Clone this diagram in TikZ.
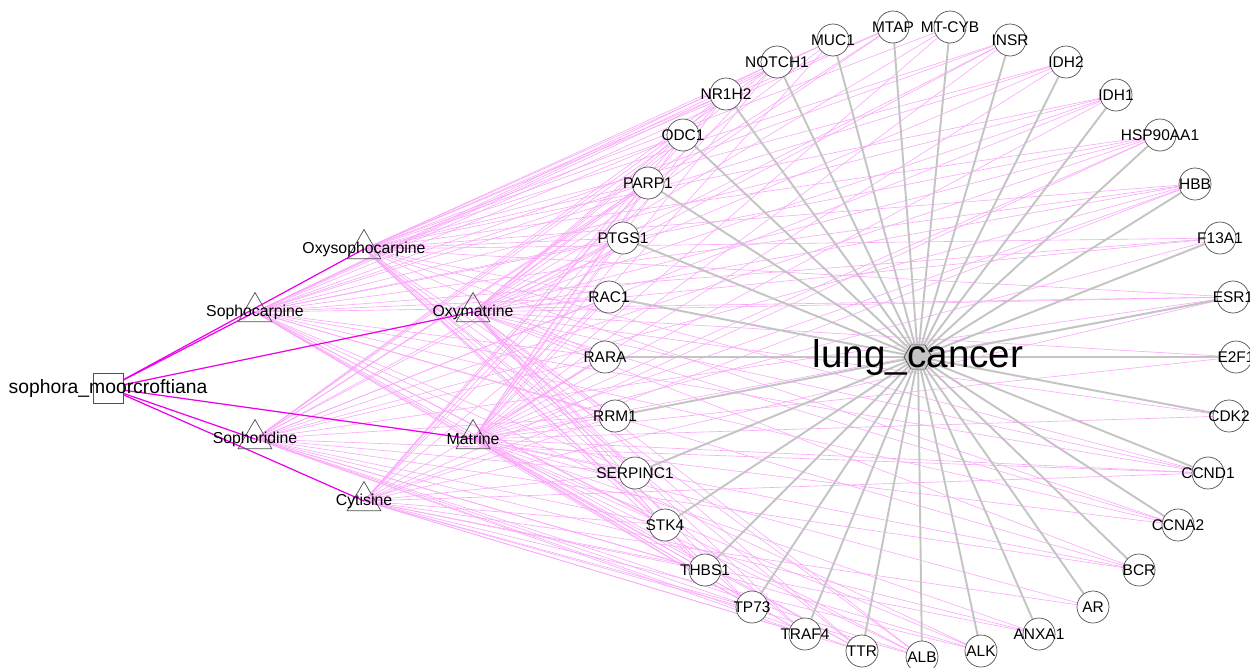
\documentclass[tikz,border=0pt]{standalone}
\usepackage{fontspec}
\setmainfont{Liberation Sans}
\usetikzlibrary{shapes.geometric, backgrounds}
\definecolor{mymagenta}{RGB}{235,0,235}
\definecolor{mypink}{RGB}{250,168,250}
\definecolor{mygray}{RGB}{196,196,196}
\definecolor{myborder}{RGB}{80,80,80}

\tikzset{
  herb/.style={draw=myborder, rectangle, minimum size=0.6cm, inner sep=0pt,
    label={[font=\fontsize{11}{13}\selectfont]center:#1}},
  compound/.style={draw=myborder, regular polygon, regular polygon sides=3,
    minimum size=0.78cm, inner sep=0pt,
    label={[font=\fontsize{9}{11}\selectfont]center:#1}},
  target/.style={draw=myborder, circle, fill=white, minimum size=0.64cm, inner sep=0pt,
    label={[font=\fontsize{8.8}{10}\selectfont]center:#1}},
  disease/.style={draw=myborder, regular polygon, regular polygon sides=6,
    minimum size=0.56cm, inner sep=0pt,
    label={[font=\fontsize{22}{26}\selectfont]center:#1}},
  herbedge/.style={mymagenta, line width=0.7pt},
  cpdedge/.style={mypink, line width=0.35pt},
  disedge/.style={mygray, line width=1.1pt}
}

\begin{document}
\begin{tikzpicture}[x=0.02cm, y=-0.02cm]
    \useasboundingbox (0,0) rectangle (1250,667);

    % herb
    \node[herb=sophora\_moorcroftiana] (sm) at (108,388) {};

    % compounds
    \node[compound=Oxysophocarpine] (oxs) at (364,249) {};
    \node[compound=Sophocarpine] (sca) at (255,312) {};
    \node[compound=Oxymatrine] (oxm) at (473,312) {};
    \node[compound=Sophoridine] (sdn) at (255,439) {};
    \node[compound=Matrine] (mat) at (473,439) {};
    \node[compound=Cytisine] (cyt) at (364,501) {};

    % disease
    \node[disease=lung\_cancer] (lung) at (918,357) {};

    % targets, clockwise from the top
    \node[target=MUC1] (muc1) at (833,40) {};
    \node[target=MTAP] (mtap) at (893,27) {};
    \node[target=MT-CYB] (mtcyb) at (950,27) {};
    \node[target=INSR] (insr) at (1010,40) {};
    \node[target=IDH2] (idh2) at (1066,62) {};
    \node[target=IDH1] (idh1) at (1116,95) {};
    \node[target=HSP90AA1] (hsp) at (1160,135) {};
    \node[target=HBB] (hbb) at (1195,184) {};
    \node[target=F13A1] (f13a1) at (1220,238) {};
    \node[target=ESR1] (esr1) at (1233,297) {};
    \node[target=E2F1] (e2f1) at (1236,357) {};
    \node[target=CDK2] (cdk2) at (1229,416) {};
    \node[target=CCND1] (ccnd1) at (1208,473) {};
    \node[target=CCNA2] (ccna2) at (1178,525) {};
    \node[target=BCR] (bcr) at (1139,570) {};
    \node[target=AR] (ar) at (1093,607) {};
    \node[target=ANXA1] (anxa1) at (1039,634) {};
    \node[target=ALK] (alk) at (981,651) {};
    \node[target=ALB] (alb) at (922,657) {};
    \node[target=TTR] (ttr) at (862,651) {};
    \node[target=TRAF4] (traf4) at (805,634) {};
    \node[target=TP73] (tp73) at (752,607) {};
    \node[target=THBS1] (thbs1) at (705,570) {};
    \node[target=STK4] (stk4) at (665,525) {};
    \node[target=SERPINC1] (serpinc1) at (635,473) {};
    \node[target=RRM1] (rrm1) at (615,416) {};
    \node[target=RARA] (rara) at (605,357) {};
    \node[target=RAC1] (rac1) at (609,297) {};
    \node[target=PTGS1] (ptgs1) at (623,238) {};
    \node[target=PARP1] (parp1) at (648,183) {};
    \node[target=ODC1] (odc1) at (683,135) {};
    \node[target=NR1H2] (nr1h2) at (726,94) {};
    \node[target=NOTCH1] (notch1) at (777,62) {};

    % edges
    \begin{scope}[on background layer]
      \foreach \t/\cs in {muc1/{oxs,sca,oxm,mat}, mtap/{oxs,sca,oxm,sdn},
          mtcyb/{oxs,oxm,mat}, insr/{oxs,sca,oxm,sdn,mat}, idh2/{oxs,sca,oxm,mat},
          idh1/{oxs,sca,oxm,sdn,mat}, hsp/{oxs,sca,oxm,sdn,mat,cyt},
          hbb/{oxs,sca,oxm,sdn,mat,cyt}, f13a1/{oxs,sca,oxm,mat},
          esr1/{oxs,sca,oxm,sdn,mat,cyt}, e2f1/{oxm,mat}, cdk2/{oxm,mat},
          ccnd1/{oxs,sca,oxm,sdn,mat,cyt}, ccna2/{oxs,sca,oxm,mat},
          bcr/{sca,oxm,sdn,mat}, ar/{mat,cyt}, anxa1/{sdn,mat,cyt},
          alk/{sca,sdn,mat,cyt}, alb/{oxs,sca,oxm,sdn,mat,cyt},
          ttr/{oxs,sca,oxm,sdn,mat,cyt}, traf4/{oxs,sca,oxm,sdn,mat,cyt},
          tp73/{oxs,sca,oxm,sdn,mat,cyt}, thbs1/{oxs,sca,oxm,sdn,mat,cyt},
          stk4/{oxs,sca,oxm,sdn,mat,cyt}, serpinc1/{oxs,sca,oxm,sdn,mat,cyt},
          rrm1/{oxs,sca,oxm,sdn,mat,cyt}, rara/{oxs,sca,oxm,sdn,mat,cyt},
          rac1/{oxs,sca,oxm,sdn,mat,cyt}, ptgs1/{oxs,sca,oxm,sdn,mat,cyt},
          parp1/{oxs,sca,oxm,sdn,mat,cyt}, odc1/{oxs,sca,oxm,sdn,mat,cyt},
          nr1h2/{oxs,sca,oxm,sdn,mat,cyt}, notch1/{oxs,sca,oxm,sdn,mat,cyt}}
        \foreach \c in \cs
          \draw[cpdedge] (\c.center) -- (\t.center);
      \foreach \t in {muc1,mtap,mtcyb,insr,idh2,idh1,hsp,hbb,f13a1,esr1,e2f1,
          cdk2,ccnd1,ccna2,bcr,ar,anxa1,alk,alb,ttr,traf4,tp73,thbs1,stk4,
          serpinc1,rrm1,rara,rac1,ptgs1,parp1,odc1,nr1h2,notch1}
        \draw[disedge] (lung.center) -- (\t.center);
      \foreach \c in {oxs,sca,oxm,sdn,mat,cyt}
        \draw[herbedge] (sm) -- (\c.center);
    \end{scope}
\end{tikzpicture}
\end{document}
